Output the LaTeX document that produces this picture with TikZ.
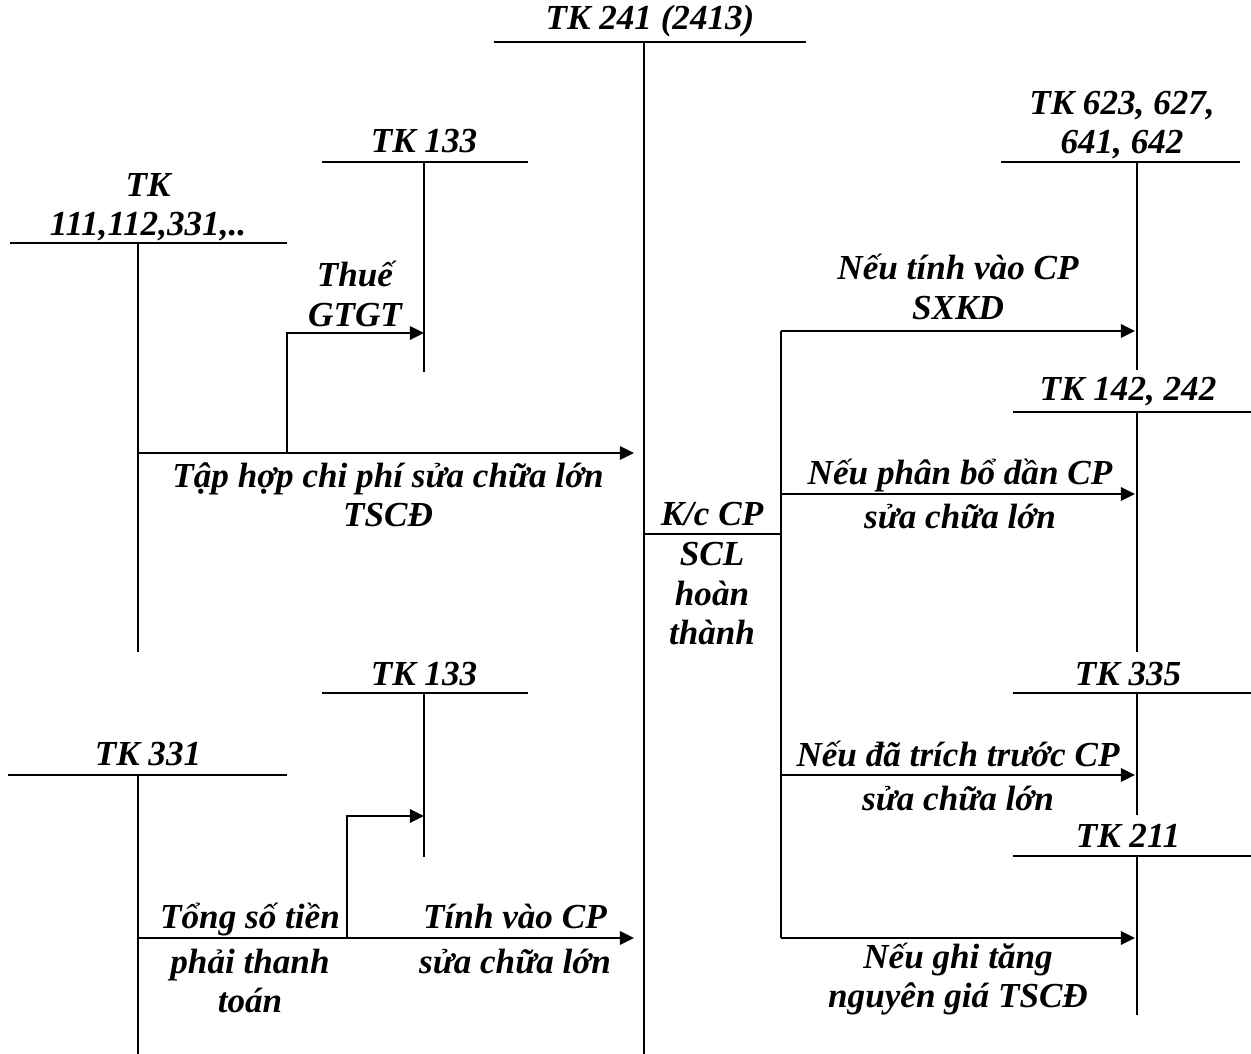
\documentclass[tikz,border=0pt]{standalone}
\usepackage{fontspec}
\setmainfont{Liberation Serif}
\usetikzlibrary{arrows.meta, positioning}
\tikzset{
  every picture/.style={font=\fontsize{20}{22.5}\selectfont\bfseries\itshape},
  tk/.style={line width=1.1pt},
  nhan/.style={align=center, inner sep=0pt},
  muiten/.style={-{Triangle[length=8pt, width=7.5pt]}, line width=1.5pt},
}
\begin{document}
\begin{tikzpicture}[x=0.02cm, y=-0.02cm]
  \useasboundingbox (0,0) rectangle (1251,1054);
  % TK 241
  \draw[tk] (494,42) -- (806,42);
  \draw[tk] (644,42) -- (644,1054);
  \node[nhan] (n241) at (650,21) {TK 241 (2413)};
  % ben trai, phia tren
  \draw[tk] (10,243) -- (287,243);
  \draw[tk] (138,243) -- (138,652);
  \node[nhan] (n111) at (148,207) {TK\\111,112,331,..};
  \draw[tk] (322,162) -- (528,162);
  \draw[tk] (424,162) -- (424,372);
  \node[nhan] (n133a) at (424,141) {TK 133};
  \coordinate (a1) at (138,453);
  \coordinate (a2) at (634,453);
  \coordinate (a3) at (287,453);
  \coordinate (a5) at (424,333);
  \draw[muiten] (a1) -- (a2);
  \draw[muiten] (a3) |- (a5);
  \node[nhan] (lThue) at (355,294) {Thuế\\GTGT};
  \node[nhan] (lTaphop) at (388,495) {Tập hợp chi phí sửa chữa lớn\\TSCĐ};
  % ben trai, phia duoi
  \draw[tk] (8,775) -- (287,775);
  \draw[tk] (138,775) -- (138,1054);
  \node[nhan] (n331) at (148,754) {TK 331};
  \draw[tk] (322,693) -- (528,693);
  \draw[tk] (424,693) -- (424,857);
  \node[nhan] (n133b) at (424,674) {TK 133};
  \coordinate (d1) at (138,938);
  \coordinate (d2) at (634,938);
  \coordinate (d3) at (347,938);
  \coordinate (d5) at (424,816);
  \draw[muiten] (d1) -- (d2);
  \draw[muiten] (d3) |- (d5);
  \node[nhan] (lTong) at (250,958) {Tổng số tiền\\[3pt]phải thanh\\toán};
  \node[nhan] (lTinh) at (515,939) {Tính vào CP\\[3pt]sửa chữa lớn};
  % ket chuyen
  \draw[tk] (644,534) -- (781,534);
  \node[nhan] (lKc) at (712,514) {K/c CP};
  \node[nhan] (lScl) at (712,594) {SCL\\hoàn\\thành};
  \coordinate (b1) at (781,331);
  \coordinate (b2) at (781,494);
  \coordinate (b3) at (781,775);
  \coordinate (b4) at (781,938);
  \draw[tk] (b1) -- (b4);
  % ben phai
  \draw[tk] (1001,162) -- (1240,162);
  \draw[tk] (1137,162) -- (1137,370);
  \node[nhan] (n623) at (1122,125) {TK 623, 627,\\641, 642};
  \draw[tk] (1013,412) -- (1251,412);
  \draw[tk] (1137,412) -- (1137,652);
  \node[nhan] (n142) at (1128,392) {TK 142, 242};
  \draw[tk] (1013,693) -- (1251,693);
  \draw[tk] (1137,693) -- (1137,815);
  \node[nhan] (n335) at (1128,674) {TK 335};
  \draw[tk] (1013,856) -- (1251,856);
  \draw[tk] (1137,856) -- (1137,1015);
  \node[nhan] (n211) at (1128,836) {TK 211};
  \coordinate (c1) at (1135,331);
  \coordinate (c2) at (1135,494);
  \coordinate (c3) at (1135,775);
  \coordinate (c4) at (1135,938);
  \draw[muiten] (b1) -- (c1);
  \draw[muiten] (b2) -- (c2);
  \draw[muiten] (b3) -- (c3);
  \draw[muiten] (b4) -- (c4);
  \node[nhan] (lNeu1) at (958,287) {Nếu tính vào CP\\SXKD};
  \node[nhan] (lNeu2) at (960,494) {Nếu phân bổ dần CP\\[3pt]sửa chữa lớn};
  \node[nhan] (lNeu3) at (958,776) {Nếu đã trích trước CP\\[3pt]sửa chữa lớn};
  \node[nhan] (lNeu4) at (958,979) {Nếu ghi tăng\\nguyên giá TSCĐ};
\end{tikzpicture}
\end{document}
